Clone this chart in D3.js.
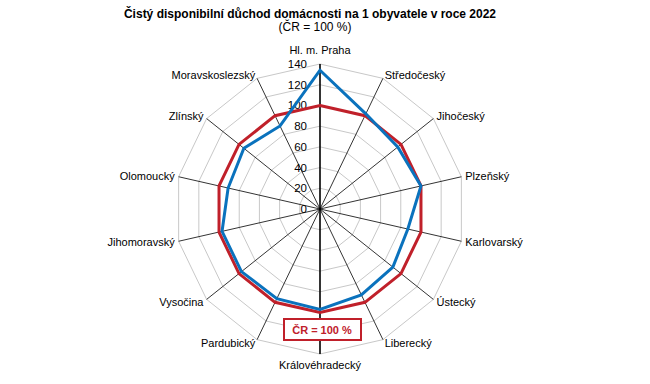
<!DOCTYPE html>
<html>
<head>
<meta charset="utf-8">
<script src="https://cdn.jsdelivr.net/npm/d3@7"></script>
<style>
  body { margin: 0; background: #fff; }
  text { font-family: Arial, "Liberation Sans", sans-serif; }
</style>
</head>
<body>
<div id="chart"></div>
<script>
// kraje, po směru hodinových ručiček od Prahy
var regions = ["Hl. m. Praha", "Středočeský", "Jihočeský", "Plzeňský", "Karlovarský",
  "Ústecký", "Liberecký", "Královéhradecký", "Pardubický", "Vysočina",
  "Jihomoravský", "Olomoucký", "Zlínský", "Moravskoslezský"];
var regionValues = [134, 102, 96, 100, 87, 90, 92, 97, 96, 97, 97, 91, 94, 89];
var crValues = [100, 100, 100, 100, 100, 100, 100, 100, 100, 100, 100, 100, 100, 100];
var ticks = [0, 20, 40, 60, 80, 100, 120, 140];

var W = 650, H = 384;
var cx = 320, cy = 209, R = 145;

var svg = d3.select("#chart").append("svg")
  .attr("width", W).attr("height", H);

var r = d3.scaleLinear().domain([0, 140]).range([0, R]);
var ang = d3.scaleLinear().domain([0, regions.length]).range([0, 2 * Math.PI]);

function pt(i, v) {
  var a = ang(i);
  return [cx + r(v) * Math.sin(a), cy - r(v) * Math.cos(a)];
}

// kruhy mřížky
var g = svg.append("g");
ticks.slice(1).forEach(function (t) {
  g.append("path")
    .attr("d", d3.line()(regions.map(function (d, i) { return pt(i, t); })) + "Z")
    .attr("fill", "none").attr("stroke", "#c8c8c8").attr("stroke-width", 1);
});

// paprsky
regions.forEach(function (d, i) {
  var p = pt(i, 140);
  g.append("line")
    .attr("x1", cx).attr("y1", cy).attr("x2", p[0]).attr("y2", p[1])
    .attr("stroke", "#000")
    .attr("stroke-width", (i == 0 || i == 7) ? 1.6 : 0.8);
});

// popisky hodnot
ticks.forEach(function (t) {
  svg.append("text")
    .attr("x", cx - 13).attr("y", cy - r(t))
    .attr("dy", "0.35em")
    .attr("text-anchor", "end")
    .attr("font-size", 11.5)
    .text(t);
});

// řady
var line = d3.line();
function series(vals, color) {
  svg.append("path")
    .attr("d", line(vals.map(function (v, i) { return pt(i, v); })) + "Z")
    .attr("fill", "none").attr("stroke", color)
    .attr("stroke-width", 3).attr("stroke-linejoin", "miter");
}
series(crValues, "#c0202a");
series(regionValues, "#0a72bd");

// popisky krajů
regions.forEach(function (d, i) {
  var a = ang(i), s = Math.sin(a), c = Math.cos(a);
  var vertical = Math.abs(s) < 0.1;
  var rr = vertical ? (c > 0 ? R + 14 : R + 11) : R + 4;
  svg.append("text")
    .attr("x", cx + rr * s).attr("y", cy - rr * c)
    .attr("dy", "0.35em")
    .attr("text-anchor", vertical ? "middle" : (s > 0 ? "start" : "end"))
    .attr("font-size", 11)
    .text(d);
});

// titulek
svg.append("text")
  .attr("x", 310).attr("y", 18)
  .attr("text-anchor", "middle")
  .attr("font-size", 12).attr("font-weight", "bold")
  .text("Čistý disponibilní důchod domácnosti na 1 obyvatele v roce 2022");
svg.append("text")
  .attr("x", 315).attr("y", 31)
  .attr("text-anchor", "middle")
  .attr("font-size", 12)
  .text("(ČR = 100 %)");

// legenda
svg.append("rect")
  .attr("x", 284).attr("y", 319).attr("width", 77).attr("height", 21)
  .attr("fill", "#fff").attr("stroke", "#c0202a").attr("stroke-width", 2);
svg.append("text")
  .attr("x", 322).attr("y", 330).attr("dy", "0.35em")
  .attr("text-anchor", "middle")
  .attr("font-size", 11).attr("font-weight", "bold")
  .attr("fill", "#c0202a")
  .text("ČR = 100 %");
</script>
</body>
</html>
